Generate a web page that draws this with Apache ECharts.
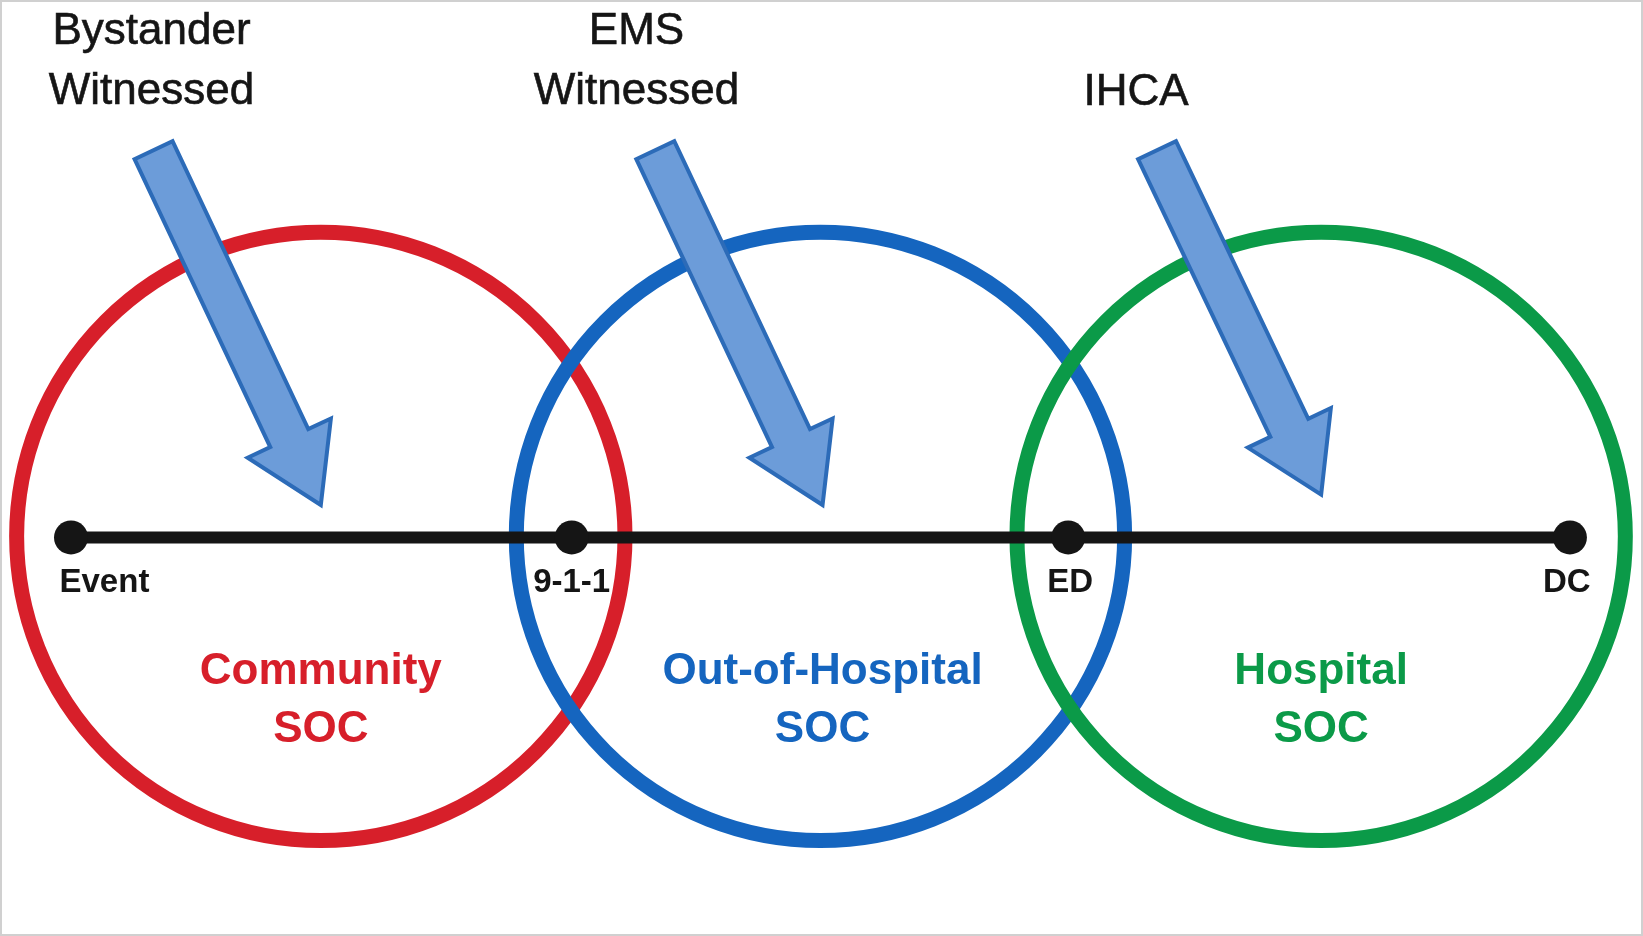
<!DOCTYPE html>
<html>
<head>
<meta charset="utf-8">
<script src="https://cdn.jsdelivr.net/npm/echarts@6/dist/echarts.min.js"></script>
<style>
  html, body { margin: 0; padding: 0; background: #fff; }
  #chart { width: 1643px; height: 936px; box-sizing: border-box; border: 2px solid #d0d0d0; }
</style>
</head>
<body>
<div id="chart"></div>
<script>
// Diagram coordinates (image units, y grows downward)
const circleCenters = [[305, 512], [783, 512], [1262, 512]];
const circleRadius = 291;
const circleColors = ['#D71F2A', '#1565BF', '#0B9A48'];

const timelinePoints = [[66, 513], [545, 513], [1020, 513], [1500, 513]];
const timelineLabels = ['Event', '9-1-1', 'ED', 'DC'];
const timelineLabelPos = [[98, 557], [545, 557], [1022, 557], [1497, 557]];

const socLabels = ['Community\nSOC', 'Out-of-Hospital\nSOC', 'Hospital\nSOC'];
const socLabelPos = [[305, 670], [785, 670], [1262, 670]];

const arrowTails = [[145, 142], [625, 142], [1105, 142]];
const arrowTips = [[305, 482], [785, 482], [1262, 472]];

const topLabels = ['Bystander\nWitnessed', 'EMS\nWitnessed', 'IHCA'];
const topLabelPos = [[143, 57], [607, 57], [1085, 87]];

const chart = echarts.init(document.getElementById('chart'));

function arrowShape(api, i) {
  const t = api.coord(arrowTails[i]);
  const p = api.coord(arrowTips[i]);
  const dx = p[0] - t[0], dy = p[1] - t[1];
  const len = Math.sqrt(dx * dx + dy * dy);
  const ux = dx / len, uy = dy / len;
  const nx = -uy, ny = ux;
  const w = 21, hw = 46, hl = 74;
  const b = [p[0] - ux * hl, p[1] - uy * hl];
  return [
    [t[0] + nx * w, t[1] + ny * w],
    [b[0] + nx * w, b[1] + ny * w],
    [b[0] + nx * hw, b[1] + ny * hw],
    p,
    [b[0] - nx * hw, b[1] - ny * hw],
    [b[0] - nx * w, b[1] - ny * w],
    [t[0] - nx * w, t[1] - ny * w]
  ];
}

const font = 'Liberation Sans, Arial, sans-serif';

chart.setOption({
  animation: false,
  grid: { left: 0, right: 0, top: 0, bottom: 0 },
  xAxis: { type: 'value', min: 0, max: 1568, show: false },
  yAxis: { type: 'value', min: 0, max: 893, inverse: true, show: false },
  series: [
    {
      type: 'custom',
      z: 2,
      data: circleCenters.map((c, i) => [c[0], c[1], i]),
      renderItem: function (params, api) {
        const c = api.coord([api.value(0), api.value(1)]);
        const e = api.coord([api.value(0) + circleRadius, api.value(1)]);
        return {
          type: 'circle',
          shape: { cx: c[0], cy: c[1], r: e[0] - c[0] },
          style: { fill: 'none', stroke: circleColors[api.value(2)], lineWidth: 15 }
        };
      }
    },
    {
      type: 'line',
      z: 3,
      data: timelinePoints,
      symbol: 'circle',
      symbolSize: 34,
      lineStyle: { color: '#151515', width: 12 },
      itemStyle: { color: '#151515' }
    },
    {
      type: 'custom',
      z: 4,
      data: arrowTails.map((t, i) => [t[0], t[1], i]),
      renderItem: function (params, api) {
        return {
          type: 'polygon',
          shape: { points: arrowShape(api, api.value(2)) },
          style: { fill: '#6C9CD9', stroke: '#2C6BB8', lineWidth: 4, lineJoin: 'miter' }
        };
      }
    },
    {
      type: 'scatter',
      z: 5,
      symbolSize: 0,
      itemStyle: { opacity: 1 },
      data: timelineLabelPos.map((p, i) => ({ value: p, name: timelineLabels[i] })),
      label: {
        show: true, position: 'inside', formatter: '{b}',
        fontFamily: font, fontWeight: 'bold',
        fontSize: 33, color: '#151515'
      }
    },
    {
      type: 'scatter',
      z: 5,
      symbolSize: 0,
      itemStyle: { opacity: 1 },
      data: socLabelPos.map((p, i) => ({
        value: p, name: socLabels[i],
        label: { color: circleColors[i] }
      })),
      label: {
        show: true, position: 'inside', formatter: '{b}', align: 'center',
        fontFamily: font, fontWeight: 'bold',
        fontSize: 44, lineHeight: 58
      }
    },
    {
      type: 'scatter',
      z: 5,
      symbolSize: 0,
      itemStyle: { opacity: 1 },
      data: topLabelPos.map((p, i) => ({ value: p, name: topLabels[i] })),
      label: {
        show: true, position: 'inside', formatter: '{b}', align: 'center',
        fontFamily: font, fontWeight: 500,
        fontSize: 44, lineHeight: 60, color: '#151515',
        textBorderColor: '#151515', textBorderWidth: 0.6
      }
    }
  ]
});
</script>
</body>
</html>
